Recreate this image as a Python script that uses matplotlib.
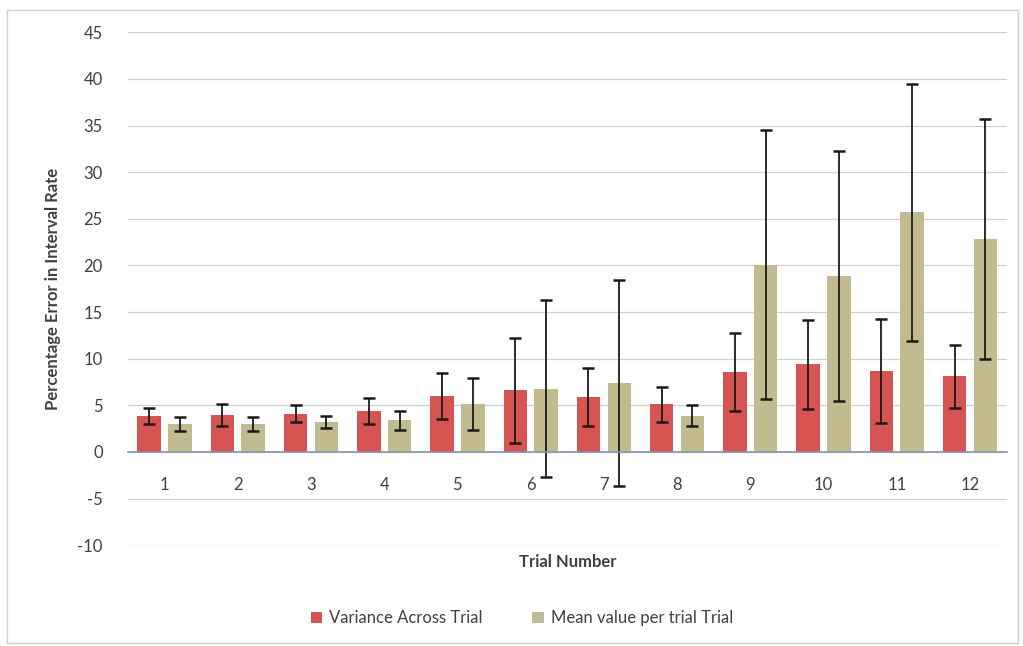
import numpy as np
import matplotlib
matplotlib.use("Agg")
import matplotlib.pyplot as plt
from matplotlib.patches import Rectangle

plt.rcParams['font.family'] = ['Lato', 'DejaVu Sans']
plt.rcParams['axes.unicode_minus'] = False

# data
trials = ['1', '2', '3', '4', '5', '6', '7', '8', '9', '10', '11', '12']
variance = [3.9, 3.95, 4.1, 4.4, 6.0, 6.6, 5.9, 5.1, 8.6, 9.4, 8.7, 8.1]
variance_err = [0.85, 1.15, 0.9, 1.4, 2.45, 5.6, 3.1, 1.9, 4.2, 4.8, 5.6, 3.4]
mean_val = [3.0, 3.0, 3.25, 3.4, 5.15, 6.8, 7.4, 3.9, 20.1, 18.9, 25.7, 22.8]
mean_err = [0.7, 0.8, 0.65, 1.0, 2.8, 9.5, 11.0, 1.1, 14.4, 13.4, 13.8, 12.85]

red = '#d65552'
khaki = '#c2bb8f'

fig = plt.figure(figsize=(10.23, 6.46), dpi=100)
ax = fig.add_axes([0.125, 0.156, 0.859, 0.794])

x = np.arange(1, len(trials) + 1)
w = 0.32
ekw = dict(ecolor='#1a1a1a', elinewidth=1.3, capsize=4, capthick=1.8)
ax.bar(x - 0.21, variance, w, yerr=variance_err, color=red,
       label='Variance Across Trial', error_kw=ekw, zorder=3)
ax.bar(x + 0.21, mean_val, w, yerr=mean_err, color=khaki,
       label='Mean value per trial Trial', error_kw=ekw, zorder=3)

ax.set_xlim(0.5, 12.5)
ax.set_ylim(-10, 45)
ax.set_yticks(np.arange(-10, 46, 5))
ax.set_xticks(x)
ax.set_xticklabels(trials)

ax.grid(axis='y', color='#d0d0d0', linewidth=0.9, zorder=0)
for s in ['left', 'right', 'top']:
    ax.spines[s].set_visible(False)
ax.spines['bottom'].set_position(('data', 0))
ax.spines['bottom'].set_color('#8a93b0')
ax.spines['bottom'].set_linewidth(1.2)
ax.spines['bottom'].set_zorder(4)

ax.tick_params(axis='y', length=0, pad=18, labelsize=12, labelcolor='#404040')
ax.tick_params(axis='x', length=0, pad=18, labelsize=12, labelcolor='#404040')

ax.set_ylabel('Percentage Error in Interval Rate', fontsize=12, fontweight='bold',
              color='#404040', labelpad=12)
fig.text(0.555, 0.13, 'Trial Number', ha='center', va='center', fontsize=12,
         fontweight='bold', color='#404040')

fig.legend(loc='center', bbox_to_anchor=(0.51, 0.043), ncol=2, frameon=False,
           fontsize=12, handlelength=0.7, handleheight=0.7, columnspacing=3,
           handletextpad=0.4, labelcolor='#404040')

fig.patches.append(Rectangle((0.007, 0.005), 0.988, 0.98, transform=fig.transFigure,
                             fill=False, edgecolor='#cfcfcf', linewidth=1))

fig.savefig('out.png', dpi=100)
